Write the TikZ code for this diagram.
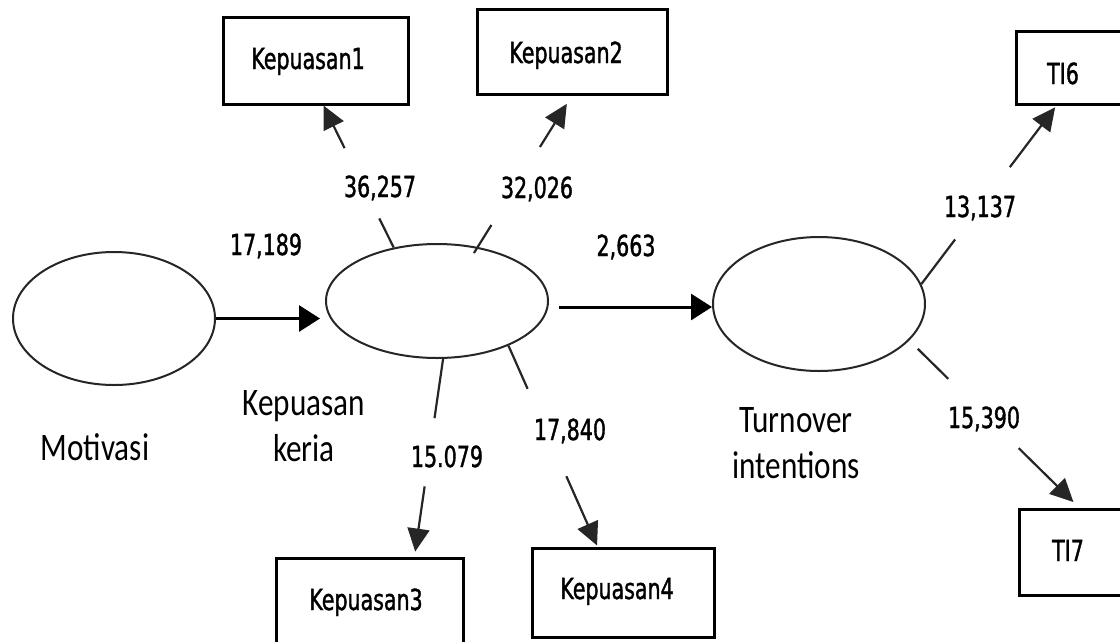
\documentclass[tikz,border=0pt]{standalone}
\usepackage{fontspec}
\newfontfamily\bigf[FakeStretch=0.8]{Carlito}
\newfontfamily\smallf[FakeStretch=0.71,FakeBold=1.2]{DejaVu Sans}
\usetikzlibrary{shapes.geometric,arrows.meta,calc}
\newcommand\boxtxt[3]{\raisebox{#2}[0pt][0pt]{\makebox[0pt]{\hspace*{#1}#3}}}
\begin{document}
\begin{tikzpicture}[x=1pt,y=-1pt,
  lat/.style={ellipse, draw=black!85, line width=2pt, inner sep=0pt},
  ibox/.style={rectangle, draw, line width=3pt, inner sep=0pt, font=\smallf\fontsize{29}{34}\selectfont},
  numlbl/.style={anchor=base, inner sep=0pt, font=\smallf\fontsize{29}{34}\selectfont},
  biglbl/.style={anchor=base, inner sep=0pt, align=center, font=\bigf\fontsize{39}{46}\selectfont},
  seg/.style={line width=2.2pt, draw=black!85},
  ind/.style={seg, -{Triangle[length=23pt,width=22pt]}},
  mainarrow/.style={line width=3pt, -{Triangle[length=21pt,width=26pt]}}]
\clip (0,0) rectangle (1120,641);
\fill[white] (0,0) rectangle (1120,641);

% latent variables
\node[lat, minimum width=202pt, minimum height=133pt] (mo) at (114,318.5) {};
\node[lat, minimum width=222pt, minimum height=114pt] (kk) at (437,301) {};
\node[lat, minimum width=212pt, minimum height=134pt] (tu) at (819,304) {};

% indicators
\node[ibox, minimum width=185pt, minimum height=87pt] (k1) at (315.5,60.5) {\boxtxt{-15pt}{-8.5pt}{Kepuasan1}};
\node[ibox, minimum width=190pt, minimum height=85pt] (k2) at (572,51.5) {\boxtxt{-12pt}{-11.5pt}{Kepuasan2}};
\node[ibox, minimum width=187pt, minimum height=86pt] (k3) at (369.5,601) {\boxtxt{-7pt}{-9pt}{Kepuasan3}};
\node[ibox, minimum width=182pt, minimum height=89pt] (k4) at (623,592.5) {\boxtxt{-12pt}{-6.5pt}{Kepuasan4}};
\node[ibox, minimum width=109pt, minimum height=73pt] (t6) at (1070.5,67.5) {\boxtxt{-15pt}{-16.5pt}{TI6}};
\node[ibox, minimum width=106pt, minimum height=86pt] (t7) at (1072,552) {\boxtxt{-8pt}{-9pt}{TI7}};

% labels (base anchor = baseline of the last line)
\node[biglbl] (lmo) at (95,460) {Motivasi};
\node[biglbl] (lkk) at (304,461) {Kepuasan\\keria};
\node[biglbl] (ltu) at (796,478) {Turnover\\intentions};

\node[numlbl] (n1) at (380,197) {36,257};
\node[numlbl] (n2) at (537,198) {32,026};
\node[numlbl] (n3) at (266,255) {17,189};
\node[numlbl] (n4) at (626,256) {2,663};
\node[numlbl] (n5) at (447,467) {15.079};
\node[numlbl] (n6) at (570,440) {17,840};
\node[numlbl] (n7) at (980,217) {13,137};
\node[numlbl] (n8) at (984,428) {15,390};

% structural paths
\draw[mainarrow] (mo.east) -- ($(mo.east -| kk.west)+(-5,0)$);
\draw[mainarrow] ($(kk.east)+(10,6)$) -- ($(tu.west)+(0,3)$);

% end points on the indicator boxes
\coordinate (k1b) at ($(k1.south)+(8,0)$);
\coordinate (k2b) at (k2.south);
\coordinate (k3b) at ($(k3.north)+(45,0)$);
\coordinate (k4b) at ($(k4.north)+(-25.5,0)$);
\coordinate (t6b) at ($(t6.south)+(-14,0)$);
\coordinate (t7b) at ($(t7.north)+(7,0)$);

% loadings
\draw[seg] (kk.129) -- ($(kk.129)!0.205!(k1b)$);
\draw[ind] ($(kk.129)!0.70!(k1b)$) -- (k1b);

\draw[seg] ($(kk.53)!-0.04!(k2b)$) -- ($(kk.53)!0.145!(k2b)$);
\draw[ind] ($(kk.53)!0.66!(k2b)$) -- ($(kk.53)!0.945!(k2b)$);

\draw[seg] (kk.-84) -- ($(kk.-84)!0.30!(k3b)$);
\draw[ind] ($(kk.-84)!0.645!(k3b)$) -- ($(kk.-84)!0.975!(k3b)$);

\draw[seg] (kk.-32) -- ($(kk.-32)!0.215!(k4b)$);
\draw[ind] ($(kk.-32)!0.65!(k4b)$) -- ($(kk.-32)!0.995!(k4b)$);

\draw[seg] (tu.11.7) -- ($(tu.11.7)!0.25!(t6b)$);
\draw[ind] ($(tu.11.7)!0.655!(t6b)$) -- ($(tu.11.7)!0.99!(t6b)$);

\draw[seg] ($(tu.-22)!0.05!(t7b)$) -- ($(tu.-22)!0.23!(t7b)$);
\draw[ind] ($(tu.-22)!0.645!(t7b)$) -- ($(tu.-22)!0.967!(t7b)$);
\end{tikzpicture}
\end{document}
